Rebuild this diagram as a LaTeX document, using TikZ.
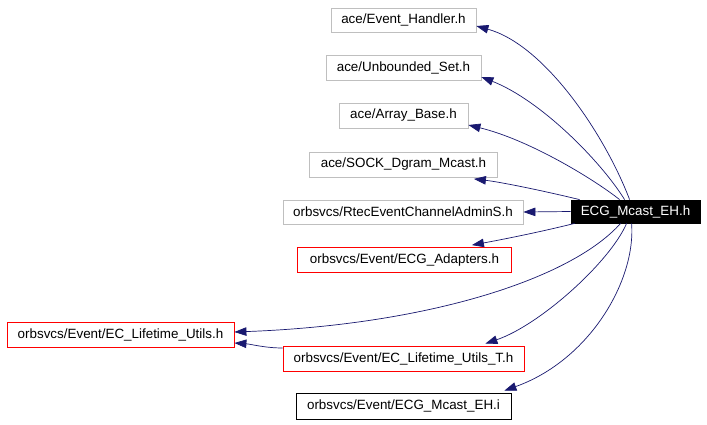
\documentclass[tikz,border=0pt]{standalone}
\usepackage{fontspec}
\setmainfont{Liberation Sans}
\usetikzlibrary{arrows.meta}
\definecolor{edgeblue}{HTML}{191970}
\definecolor{boxgray}{HTML}{BFBFBF}
\begin{document}
\begin{tikzpicture}[x=1pt,y=-1pt,
  box/.style={draw=boxgray,line width=0.8pt,minimum height=25pt,inner sep=0pt,font=\fontsize{13.4}{15}\selectfont},
  redbox/.style={box,draw=red},
  blackbox/.style={box,draw=black},
  mainbox/.style={box,draw=black,fill=black,text=white},
  edge/.style={draw=edgeblue,line width=0.7pt,-{Triangle[length=12pt,width=8.5pt]}}]
\useasboundingbox[fill=white] (0,0) rectangle (707,424);
\node[box,minimum width=145pt,minimum height=24pt] (eh) at (403.5,20) {ace/Event\_Handler.h};
\node[box,minimum width=155pt] (us) at (403.5,67.5) {ace/Unbounded\_Set.h};
\node[box,minimum width=129pt] (ab) at (403.5,115.5) {ace/Array\_Base.h};
\node[box,minimum width=188pt] (sock) at (403.5,164.5) {ace/SOCK\_Dgram\_Mcast.h};
\node[box,minimum width=240pt,minimum height=24pt] (rtec) at (403,212) {orbsvcs/RtecEventChannelAdminS.h};
\node[mainbox,minimum width=129pt,minimum height=23pt] (main) at (635.5,211.5) {ECG\_Mcast\_EH.h};
\node[redbox,minimum width=214pt] (adapt) at (404.5,260) {orbsvcs/Event/ECG\_Adapters.h};
\node[redbox,minimum width=227pt] (lu) at (120.5,334.5) {orbsvcs/Event/EC\_Lifetime\_Utils.h};
\node[redbox,minimum width=241pt] (ut) at (403.5,358.5) {orbsvcs/Event/EC\_Lifetime\_Utils\_T.h};
\node[blackbox,minimum width=215pt,minimum height=26pt] (ehi) at (403.5,406) {orbsvcs/Event/ECG\_Mcast\_EH.i};
% edges
\draw[edge] ([xshift=59pt]main.north west) .. controls (605,135) and (545,45) .. ([yshift=-6pt]eh.east);
\draw[edge] ([xshift=54pt]main.north west) .. controls (600,160) and (540,100) .. ([yshift=-9.5pt]us.east);
\draw[edge] ([xshift=49pt]main.north west) .. controls (595,180) and (530,140) .. ([yshift=-9.5pt]ab.east);
\draw[edge] ([xshift=9pt]main.north west) .. controls (540,190) and (500,182) .. ([xshift=-24pt,yshift=-1.5pt]sock.south east);
\draw[edge] (main.west) -- (rtec.east);
\draw[edge] ([xshift=4pt]main.south west) .. controls (540,232) and (505,239) .. ([xshift=-40pt,yshift=2pt]adapt.north east);
\draw[edge] ([xshift=50pt]main.south west) .. controls (570,280) and (425,325) .. ([yshift=2.5pt]lu.east);
\draw[edge] ([xshift=56pt]main.south west) .. controls (610,262) and (540,325) .. ([xshift=-39pt,yshift=2pt]ut.north east);
\draw[edge] ([xshift=61pt]main.south west) .. controls (636,280) and (590,360) .. ([xshift=-7pt,yshift=2pt]ehi.north east);
\draw[edge] ([yshift=10.5pt]ut.west) .. controls (265,348) and (250,344) .. ([yshift=-8.5pt]lu.east);
\end{tikzpicture}
\end{document}
